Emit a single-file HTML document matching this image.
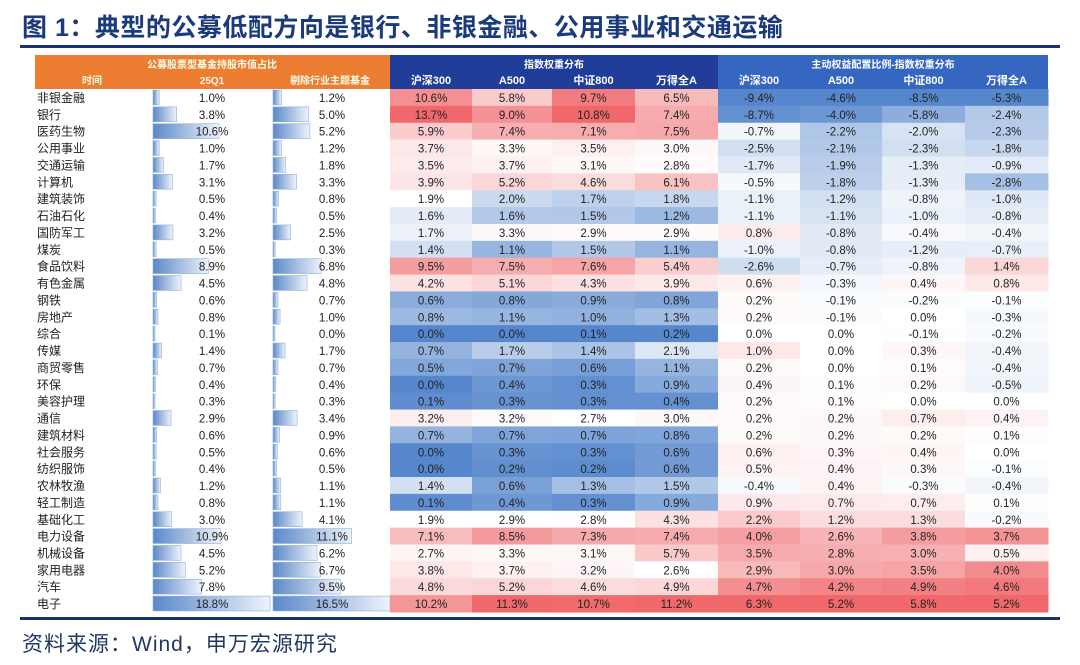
<!DOCTYPE html>
<html><head><meta charset="utf-8">
<style>
body{margin:0;width:1080px;height:665px;background:#fff;overflow:hidden;font-family:"Liberation Sans","Noto Sans CJK SC",sans-serif;position:relative}
#title{position:absolute;left:22px;top:8px;font-size:25px;font-weight:bold;color:#1a3a7c;letter-spacing:0.5px}
#tline{position:absolute;left:20px;top:45px;width:1040px;height:3px;background:#1a3170}
#bline{position:absolute;left:20px;top:617px;width:1040px;height:3px;background:#1a3170}
#src{position:absolute;left:22px;top:628px;font-size:21px;color:#1f3864;letter-spacing:1px}
#tbl{position:absolute;left:0;top:0}
</style></head><body>
<div id="title">图 1：典型的公募低配方向是银行、非银金融、公用事业和交通运输</div>
<div id="tline"></div>
<svg id="tbl" width="1080" height="665"></svg>
<div id="bline"></div>
<div id="src">资料来源：Wind，申万宏源研究</div>
<script>
const names=["非银金融","银行","医药生物","公用事业","交通运输","计算机","建筑装饰","石油石化","国防军工","煤炭","食品饮料","有色金属","钢铁","房地产","综合","传媒","商贸零售","环保","美容护理","通信","建筑材料","社会服务","纺织服饰","农林牧渔","轻工制造","基础化工","电力设备","机械设备","家用电器","汽车","电子"];
const q1=[1.0,3.8,10.6,1.0,1.7,3.1,0.5,0.4,3.2,0.5,8.9,4.5,0.6,0.8,0.1,1.4,0.7,0.4,0.3,2.9,0.6,0.5,0.4,1.2,0.8,3.0,10.9,4.5,5.2,7.8,18.8];
const ex=[1.2,5.0,5.2,1.2,1.8,3.3,0.8,0.5,2.5,0.3,6.8,4.8,0.7,1.0,0.0,1.7,0.7,0.4,0.3,3.4,0.9,0.6,0.5,1.1,1.1,4.1,11.1,6.2,6.7,9.5,16.5];
const hs300=[10.6,13.7,5.9,3.7,3.5,3.9,1.9,1.6,1.7,1.4,9.5,4.2,0.6,0.8,0.0,0.7,0.5,0.0,0.1,3.2,0.7,0.0,0.0,1.4,0.1,1.9,7.1,2.7,3.8,4.8,10.2];
const a500=[5.8,9.0,7.4,3.3,3.7,5.2,2.0,1.6,3.3,1.1,7.5,5.1,0.8,1.1,0.0,1.7,0.7,0.4,0.3,3.2,0.7,0.3,0.2,0.6,0.4,2.9,8.5,3.3,3.7,5.2,11.3];
const zz800=[9.7,10.8,7.1,3.5,3.1,4.6,1.7,1.5,2.9,1.5,7.6,4.3,0.9,1.0,0.1,1.4,0.6,0.3,0.3,2.7,0.7,0.3,0.2,1.3,0.3,2.8,7.3,3.1,3.2,4.6,10.7];
const wdqa=[6.5,7.4,7.5,3.0,2.8,6.1,1.8,1.2,2.9,1.1,5.4,3.9,0.8,1.3,0.2,2.1,1.1,0.9,0.4,3.0,0.8,0.6,0.6,1.5,0.9,4.3,7.4,5.7,2.6,4.9,11.2];
const d300=[-9.4,-8.7,-0.7,-2.5,-1.7,-0.5,-1.1,-1.1,0.8,-1.0,-2.6,0.6,0.2,0.2,0.0,1.0,0.2,0.4,0.2,0.2,0.2,0.6,0.5,-0.4,0.9,2.2,4.0,3.5,2.9,4.7,6.3];
const dA500=[-4.6,-4.0,-2.2,-2.1,-1.9,-1.8,-1.2,-1.1,-0.8,-0.8,-0.7,-0.3,-0.1,-0.1,0.0,0.0,0.0,0.1,0.1,0.2,0.2,0.3,0.4,0.4,0.7,1.2,2.6,2.8,3.0,4.2,5.2];
const d800=[-8.5,-5.8,-2.0,-2.3,-1.3,-1.3,-0.8,-1.0,-0.4,-1.2,-0.8,0.4,-0.2,0.0,-0.1,0.3,0.1,0.2,0.0,0.7,0.2,0.4,0.3,-0.3,0.7,1.3,3.8,3.0,3.5,4.9,5.8];
const dAll=[-5.3,-2.4,-2.3,-1.8,-0.9,-2.8,-1.0,-0.8,-0.4,-0.7,1.4,0.8,-0.1,-0.3,-0.2,-0.4,-0.4,-0.5,0.0,0.4,0.1,0.0,-0.1,-0.4,0.1,-0.2,3.7,0.5,4.0,4.6,5.2];
const subHeads=["沪深300","A500","中证800","万得全A","沪深300","A500","中证800","万得全A"];

const NS="http://www.w3.org/2000/svg";
const svg=document.getElementById('tbl');
function mk(tag,attrs,parent){const e=document.createElementNS(NS,tag);for(const k in attrs)e.setAttribute(k,attrs[k]);(parent||svg).appendChild(e);return e;}
const top0=89,rowH=16.87;
const y=i=>top0+i*rowH;
const colX=[390,472,552,635,718,800,882,965,1048];
let h=mk('rect',{x:35,y:55,width:355,height:34,fill:'#ed7d31'});

h=mk('rect',{x:390,y:55,width:328,height:34,fill:'#1f3d99'});

h=mk('rect',{x:718,y:55,width:330,height:34,fill:'#3566c0'});

function txt(s,x,yy,opt){const t=mk('text',Object.assign({x:x,y:yy,'font-size':11,'text-anchor':'middle',fill:'#222','font-family':'"Liberation Sans","Noto Sans CJK SC",sans-serif'},opt||{}));t.textContent=s;return t;}
let t=txt("公募股票型基金持股市值占比",212,68,{fill:'#ffe',"font-size":10,"font-weight":"bold"});
t=txt("指数权重分布",554,68,{fill:'#fff',"font-size":10,"font-weight":"bold"});
t=txt("主动权益配置比例-指数权重分布",883,68,{fill:'#fff',"font-size":10,"font-weight":"bold"});
t=txt("时间",92,84,{fill:'#ffe',"font-size":10,"font-weight":"bold"});
t=txt("25Q1",212,84,{fill:'#ffe',"font-size":10,"font-weight":"bold"});
t=txt("剔除行业主题基金",330,84,{fill:'#ffe',"font-size":10,"font-weight":"bold"});
subHeads.forEach((s,j)=>{const e=txt(s,(colX[j]+colX[j+1])/2,84,{fill:'#fff',"font-size":11,"font-weight":"bold"});

});

function lerp(a,b,t){return a.map((v,i)=>Math.round(v+(b[i]-v)*t));}
const RED=[240,104,108],WHITE=[255,255,255],BLUE=[86,135,205];
function median(a){const s=[...a].sort((p,q)=>p-q);return s[Math.floor(s.length/2)];}
function scaleFor(arr,mid){const mn=Math.min(...arr),mx=Math.max(...arr);
return v=>{let c;if(v>=mid)c=lerp(WHITE,RED,mx>mid?(v-mid)/(mx-mid):0);else c=lerp(WHITE,BLUE,mn<mid?(mid-v)/(mid-mn):0);return 'rgb('+c.join(',')+')';};}
const heat=[hs300,a500,zz800,wdqa,d300,dA500,d800,dAll];
const scales=heat.map((a,j)=>scaleFor(a,j<4?median(a):0));
const defs=mk('defs',{});
const g=mk('linearGradient',{id:'bg',x1:0,x2:1,y1:0,y2:0},defs);
mk('stop',{offset:'0','stop-color':'#5b88c8'},g);mk('stop',{offset:'1','stop-color':'#eef3fb'},g);
const bar1=v=>117*v/18.8, bar2=v=>117*v/16.5;
names.forEach((n,i)=>{
  const yy=y(i);
  const e=txt(n,37,yy+13,{'text-anchor':'start','font-size':12});
  
  
  const b1=mk('rect',{x:153,y:yy+1,width:Math.max(bar1(q1[i]),2),height:rowH-2,fill:'url(#bg)',stroke:'#8fb0dd','stroke-width':0.6});
  
  
  const b2=mk('rect',{x:273,y:yy+1,width:Math.max(bar2(ex[i]),2),height:rowH-2,fill:'url(#bg)',stroke:'#8fb0dd','stroke-width':0.6});
  
  
  const v1=txt(q1[i].toFixed(1)+'%',212,yy+13,{'font-size':11.5});
  
  
  const v2=txt(ex[i].toFixed(1)+'%',332,yy+13,{'font-size':11.5});
  
  
  heat.forEach((arr,j)=>{
    const c=mk('rect',{x:colX[j],y:yy,width:colX[j+1]-colX[j]+0.5,height:rowH+0.5,fill:scales[j](arr[i])});
    
    
    const tv=txt(arr[i].toFixed(1)+'%',(colX[j]+colX[j+1])/2,yy+13,{'font-size':11.5});
    
    
  });
});
</script>
</body></html>
